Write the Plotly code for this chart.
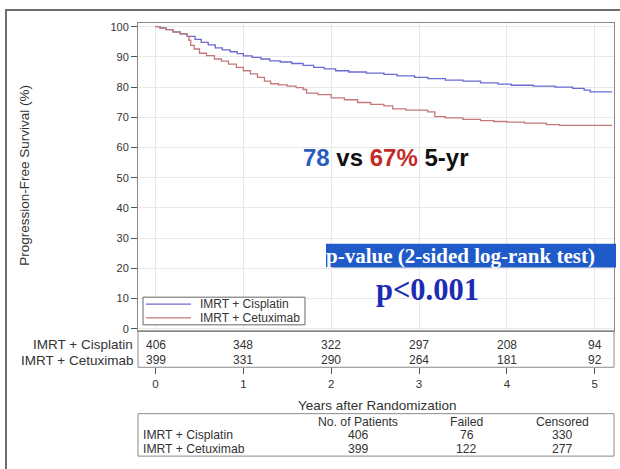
import plotly.graph_objects as go

# Kaplan-Meier progression-free survival estimates (years, %)
cis_t = [0, 0.05, 0.12, 0.2, 0.28, 0.36, 0.45, 0.52, 0.6, 0.68, 0.76, 0.85, 0.93, 1.0,
         1.1, 1.2, 1.3, 1.42, 1.55, 1.68, 1.8, 1.92, 2.05, 2.2, 2.4, 2.6, 2.75, 2.95,
         3.1, 3.3, 3.5, 3.7, 3.9, 4.05, 4.3, 4.55, 4.75, 4.88, 4.95, 5.2]
cis_s = [100, 99.6, 99.0, 98.3, 97.6, 96.8, 95.8, 94.8, 94.0, 93.0, 92.3, 91.7, 91.1, 90.3,
         89.8, 89.3, 88.7, 88.3, 87.8, 87.2, 86.5, 86.0, 85.4, 85.0, 84.6, 84.2, 83.7, 83.2,
         82.8, 82.3, 82.0, 81.4, 81.0, 80.6, 80.3, 80.0, 79.6, 79.0, 78.4, 78.4]

cet_t = [0, 0.05, 0.12, 0.2, 0.28, 0.36, 0.38, 0.40, 0.44, 0.5, 0.58, 0.67, 0.75, 0.83, 0.92,
         1.0, 1.08, 1.16, 1.24, 1.31, 1.4, 1.5, 1.6, 1.68, 1.72, 1.85, 2.0, 2.15, 2.3, 2.45,
         2.6, 2.7, 2.85, 3.1, 3.18, 3.3, 3.5, 3.7, 3.85, 4.0, 4.2, 4.45, 4.6, 5.2]
cet_s = [100, 99.5, 99.0, 98.2, 97.6, 96.8, 95.5, 93.8, 92.6, 91.2, 90.4, 89.3, 88.6, 87.6, 86.5,
         85.4, 84.4, 83.2, 82.0, 81.1, 80.7, 80.3, 79.8, 79.2, 78.0, 77.5, 76.4, 75.8, 74.9, 74.3,
         73.8, 72.8, 72.4, 71.8, 70.2, 69.8, 69.3, 68.9, 68.6, 68.4, 68.1, 67.6, 67.3, 67.3]

arms = ["IMRT + Cisplatin", "IMRT + Cetuximab"]
risk_years = [0, 1, 2, 3, 4, 5]
risk_cis = [406, 348, 322, 297, 208, 94]
risk_cet = [399, 331, 290, 264, 181, 92]

summary_cols = ["No. of Patients", "Failed", "Censored"]
summary_cis = [406, 76, 330]
summary_cet = [399, 122, 277]

y_ticks = [0, 10, 20, 30, 40, 50, 60, 70, 80, 90, 100]

BLUE = "#6a6ad2"
RED = "#c47878"
W, H = 620, 469
SANS = "Liberation Sans, Arial, sans-serif"
SERIF = "Liberation Serif, Times New Roman, serif"


def px(x):
    return x / W


def py(y):
    return 1 - y / H


fig = go.Figure()
fig.add_trace(go.Scatter(x=cis_t, y=cis_s, mode="lines", line=dict(color=BLUE, width=1.3, shape="hv"),
                         name=arms[0], showlegend=False))
fig.add_trace(go.Scatter(x=cet_t, y=cet_s, mode="lines", line=dict(color=RED, width=1.3, shape="hv"),
                         name=arms[1], showlegend=False))
# carrier for the year axis below the number-at-risk table
fig.add_trace(go.Scatter(x=[0], y=[None], xaxis="x2", yaxis="y", mode="markers",
                         showlegend=False, hoverinfo="skip"))

x_dom = [px(138), px(614)]
x_rng = [-0.2, 5.22]

fig.update_layout(
    width=W, height=H,
    margin=dict(l=0, r=0, t=0, b=0),
    paper_bgcolor="white", plot_bgcolor="white",
    showlegend=False,
    font=dict(family=SANS, size=11, color="#333"),
    xaxis=dict(domain=x_dom, range=x_rng, tickvals=risk_years, showticklabels=False, ticks="",
               showgrid=True, gridcolor="#e8e8e8", gridwidth=1, zeroline=False,
               showline=True, linecolor="#8a8a8a", linewidth=1, mirror=True),
    xaxis2=dict(domain=x_dom, range=x_rng, overlaying="x", anchor="free", position=py(370),
                tickvals=risk_years, ticks="outside", ticklen=6, tickcolor="#555",
                showgrid=False, zeroline=False, showline=False,
                tickfont=dict(size=11.5, color="#333")),
    yaxis=dict(domain=[py(333), py(21)], range=[-0.65, 101.3], tickvals=y_ticks,
               ticks="outside", ticklen=6, tickcolor="#555",
               showgrid=True, gridcolor="#e8e8e8", gridwidth=1, zeroline=False,
               showline=True, linecolor="#8a8a8a", linewidth=1, mirror=True,
               tickfont=dict(size=11, color="#333")),
)

shapes = []
ann = []

# outer frame of the panel
shapes.append(dict(type="rect", xref="paper", yref="paper", x0=px(6), x1=px(640), y0=py(8), y1=py(490),
                   line=dict(color="#6e6e6e", width=2)))
# number-at-risk box
shapes.append(dict(type="rect", xref="paper", yref="paper", x0=px(138), x1=px(614), y0=py(333), y1=py(370),
                   line=dict(color="#8a8a8a", width=1)))
# summary table box
shapes.append(dict(type="rect", xref="paper", yref="paper", x0=px(138), x1=px(614), y0=py(417), y1=py(460),
                   line=dict(color="#8a8a8a", width=1)))

# legend
shapes.append(dict(type="rect", xref="paper", yref="paper", x0=px(143), x1=px(305), y0=py(299), y1=py(327),
                   line=dict(color="#666", width=1), fillcolor="white"))
for name, color, yy in [(arms[0], BLUE, 306), (arms[1], RED, 320)]:
    shapes.append(dict(type="line", xref="paper", yref="paper", x0=px(146), x1=px(191), y0=py(yy), y1=py(yy),
                       line=dict(color=color, width=1.3)))
    ann.append(dict(text=name, xref="paper", yref="paper", x=px(198), y=py(yy), xanchor="left",
                    yanchor="middle", showarrow=False, font=dict(size=12, color="#333")))

# p-value banner
shapes.append(dict(type="rect", xref="paper", yref="paper", x0=px(326), x1=px(616), y0=py(245), y1=py(269),
                   line=dict(width=0), fillcolor="#1f5bc8"))
ann.append(dict(text="<b>p-value (2-sided log-rank test)</b>", xref="paper", yref="paper",
                x=px(324), y=py(257), xanchor="left", yanchor="middle", showarrow=False,
                font=dict(family=SERIF, size=21, color="white")))
ann.append(dict(text="<b>p&lt;0.001</b>", xref="paper", yref="paper", x=px(427), y=py(292),
                xanchor="center", yanchor="middle", showarrow=False,
                font=dict(family=SERIF, size=30.5, color="#1c2cb4")))

# 5-year estimates
ann.append(dict(text=("<b><span style='color:#2a5cbc'>78</span> vs "
                      "<span style='color:#c42a26'>67%</span> 5-yr</b>"),
                xref="paper", yref="paper", x=px(385), y=py(158), xanchor="center", yanchor="middle",
                showarrow=False, font=dict(family=SANS, size=24, color="#111")))

# axis titles
ann.append(dict(text="Progression-Free Survival (%)", xref="paper", yref="paper", x=px(25), y=py(176),
                textangle=-90, xanchor="center", yanchor="middle", showarrow=False,
                font=dict(size=13.5, color="#333")))
ann.append(dict(text="Years after Randomization", xref="paper", yref="paper", x=px(377), y=py(409),
                xanchor="center", yanchor="middle", showarrow=False, font=dict(size=13.5, color="#333")))

# number at risk
for label, vals, yy in [(arms[0], risk_cis, 347), (arms[1], risk_cet, 363)]:
    ann.append(dict(text=label, xref="paper", yref="paper", x=px(135), y=py(yy), xanchor="right",
                    yanchor="middle", showarrow=False, font=dict(size=13.5, color="#333")))
    for yr, v in zip(risk_years, vals):
        ann.append(dict(text=str(v), xref="x", yref="paper", x=yr, y=py(yy), xanchor="center",
                        yanchor="middle", showarrow=False, font=dict(size=12, color="#333")))

# summary table
col_x = [358, 467, 562]
for c, cx in zip(summary_cols, col_x):
    ann.append(dict(text=c, xref="paper", yref="paper", x=px(cx), y=py(425), xanchor="center",
                    yanchor="middle", showarrow=False, font=dict(size=12.2, color="#333")))
for label, vals, yy in [(arms[0], summary_cis, 439), (arms[1], summary_cet, 453)]:
    ann.append(dict(text=label, xref="paper", yref="paper", x=px(141), y=py(yy), xanchor="left",
                    yanchor="middle", showarrow=False, font=dict(size=12.2, color="#333")))
    for v, cx in zip(vals, col_x):
        ann.append(dict(text=str(v), xref="paper", yref="paper", x=px(cx), y=py(yy), xanchor="center",
                        yanchor="middle", showarrow=False, font=dict(size=12.2, color="#333")))

fig.update_layout(shapes=shapes, annotations=ann)
fig.write_html("out.html")
